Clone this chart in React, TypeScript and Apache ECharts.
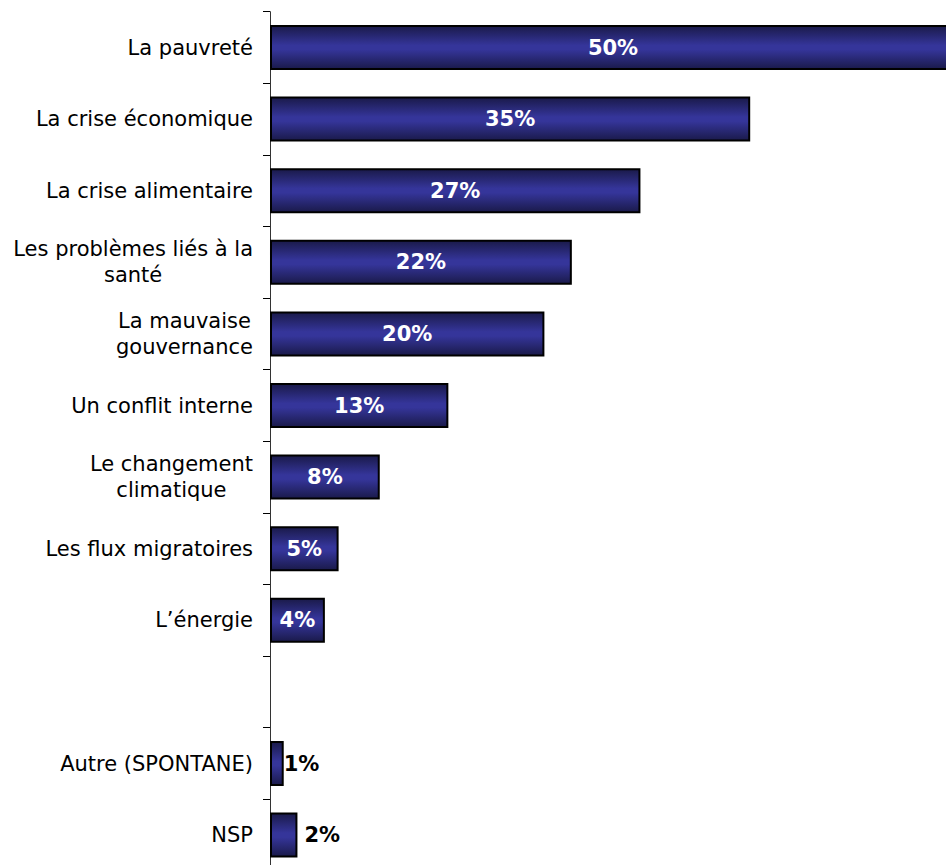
import React, { useEffect, useRef } from "react";
import * as echarts from "echarts";

const categories: string[] = [
  "La pauvreté",
  "La crise économique",
  "La crise alimentaire",
  "Les problèmes liés à la\nsanté",
  "La mauvaise\ngouvernance",
  "Un conflit interne",
  "Le changement\nclimatique",
  "Les flux migratoires",
  "L’énergie",
  "",
  "Autre (SPONTANE)",
  "NSP",
];

const values: (number | null)[] = [50, 35, 27, 22, 20, 13, 8, 5, 4, null, 1, 2];

const FONT = "'DejaVu Sans', Verdana, sans-serif";

export default function App() {
  const ref = useRef<HTMLDivElement>(null);

  useEffect(() => {
    document.body.style.margin = "0";
    if (!ref.current) return;
    const chart = echarts.init(ref.current, undefined, { renderer: "svg" });

    const barColor = new echarts.graphic.LinearGradient(0, 0, 0, 1, [
      { offset: 0, color: "#1a1a4a" },
      { offset: 0.45, color: "#35359a" },
      { offset: 0.55, color: "#35359a" },
      { offset: 1, color: "#1a1a4a" },
    ]);

    const seriesData = values.map((v) => {
      if (v === null) return "-";
      if (v < 3) {
        return {
          value: v,
          label: {
            position: "right",
            distance: v === 1 ? 0 : 7,
            color: "#000",
          },
        };
      }
      return { value: v };
    });

    chart.setOption({
      animation: false,
      backgroundColor: "#ffffff",
      grid: {
        left: 270,
        top: 11.7,
        width: 686,
        height: 859.2,
        containLabel: false,
        outerBoundsMode: "none",
      },
      xAxis: { type: "value", min: 0, max: 50, show: false },
      yAxis: {
        type: "category",
        inverse: true,
        data: categories,
        axisLine: { show: true, lineStyle: { color: "#333", width: 1 } },
        axisTick: {
          show: true,
          length: 7,
          interval: 0,
          lineStyle: { color: "#000", width: 1 },
        },
        axisLabel: {
          interval: 0,
          margin: 17,
          color: "#000",
          fontSize: 21,
          fontFamily: FONT,
          lineHeight: 26,
          formatter: (v: string) =>
            v ? v.split("\n").map((l) => `{c|${l}}`).join("\n") : "",
          rich: {
            c: {
              align: "center",
              color: "#000",
              fontSize: 21,
              fontFamily: FONT,
              lineHeight: 26,
            },
          },
        },
        splitLine: { show: false },
      },
      series: [
        {
          type: "bar",
          data: seriesData,
          barWidth: 45,
          itemStyle: {
            color: barColor,
            borderColor: "#000",
            borderWidth: 2,
          },
          label: {
            show: true,
            position: "inside",
            formatter: "{c}%",
            color: "#fff",
            fontSize: 21,
            fontWeight: "bold",
            fontFamily: FONT,
          },
        },
      ],
    });

    return () => chart.dispose();
  }, []);

  return <div ref={ref} style={{ width: 946, height: 865 }} />;
}
